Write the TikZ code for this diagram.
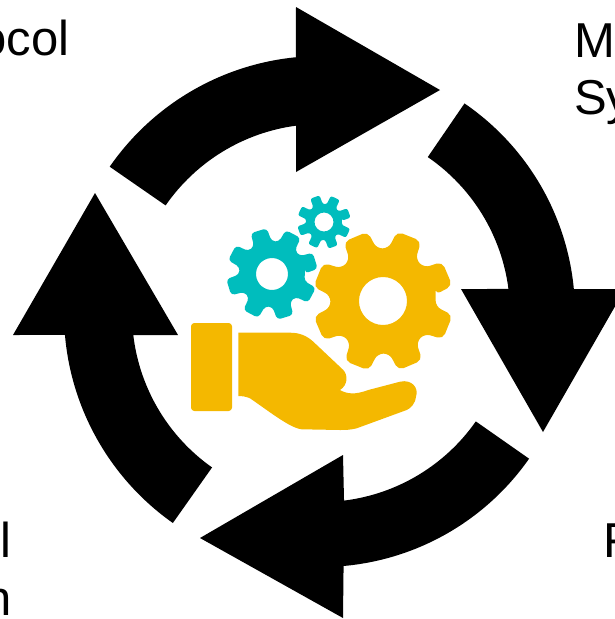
\documentclass[tikz,border=0pt]{standalone}
\usepackage{fontspec}
\setmainfont{Liberation Sans}
\usetikzlibrary{calc}
\definecolor{gearyellow}{HTML}{F4B800}
\definecolor{gearteal}{HTML}{00BDBD}

% #1 colour, #2 x, #3 y, #4 rotation, #5 tip radius, #6 root radius, #7 hole radius
\newcommand{\gear}[7]{
  \begin{scope}[shift={(#2,#3)},rotate=#4]
    \fill[#1,even odd rule,rounded corners=0.06*#5 pt]
      (-16:#6)
      \foreach \a in {0,45,...,315} {
        -- (\a-16:#6) -- (\a-10.5:#5) -- (\a+10.5:#5) -- (\a+16:#6)
      } -- cycle
      (0,0) circle[radius=#7];
  \end{scope}
}

\begin{document}
\begin{tikzpicture}[x=0.75pt,y=0.75pt]
\tikzset{
	cycle arrow/.style={fill=black},
	side label/.style={inner sep=0,font=\fontsize{36.75}{43}\selectfont,text=black},
	hand part/.style={fill=gearyellow}
}
\useasboundingbox (0,-619) rectangle (615,0);

      % four arrows round the centre
      \coordinate (C) at (321,-313);
      \fill[cycle arrow] (C) ++(145.3:257) arc[start angle=145.3,end angle=95.6,radius=257]
          -- (296,-7) -- (440,-90) -- (296,-172)
          -- ($(C)+(97.6:189)$) arc[start angle=97.6,end angle=145.3,radius=189] -- cycle;
      \fill[cycle arrow] (C) ++(55.6:254) arc[start angle=55.6,end angle=5.4,radius=254]
          -- (625,-289) -- (543,-432) -- (461,-289)
          -- ($(C)+(7.3:189)$) arc[start angle=7.3,end angle=55.6,radius=189] -- cycle;
      \fill[cycle arrow] (C) ++(-35:254) arc[start angle=-35,end angle=-84.9,radius=254]
          -- (343,-618) -- (200,-538) -- (343,-455)
          -- ($(C)+(-83:189)$) arc[start angle=-83,end angle=-35,radius=189] -- cycle;
      \fill[cycle arrow] (C) ++(234.8:257) arc[start angle=234.8,end angle=184.9,radius=257]
          -- (13,-335) -- (95,-193) -- (178,-335)
          -- ($(C)+(186.7:189)$) arc[start angle=186.7,end angle=234.8,radius=189] -- cycle;

      % gears
      \gear{gearyellow}{383}{-301}{23}{71}{53}{24}
      \gear{gearteal}{272}{-274}{17}{46}{33}{16}
      \gear{gearteal}{324}{-222}{20}{27}{18}{9.5}

      % hand
      \fill[hand part,rounded corners=2.5pt] (191,-323) rectangle (232,-411);
      \fill[hand part] (238.3,-332.7) -- (290,-332.7)
          .. controls (300,-332.7) and (307,-336) .. (313.3,-341.7)
          -- (343.3,-370)
          .. controls (348,-375) and (348,-385) .. (340,-390)
          .. controls (347,-394) and (355,-395) .. (368.3,-390)
          -- (400,-381.7)
          .. controls (412,-379) and (419,-388) .. (416,-396.7)
          .. controls (415,-404) and (411,-408) .. (406.7,-410)
          -- (356.7,-428.3)
          .. controls (350,-430) and (345,-430) .. (340,-430)
          -- (301.7,-429.3)
          .. controls (290,-428) and (270,-412) .. (250,-398.3)
          .. controls (246,-396.5) and (242,-396) .. (238.3,-396) -- cycle;

      % labels, cut off by the page edge
      \node[side label,anchor=base east] (tl) at (69.5,-55) {ocol};
      \node[side label,anchor=base west] (tr1) at (574,-57) {M};
      \node[side label,anchor=base west] (tr2) at (574,-114) {Sy};
      \node[side label,anchor=base east] (bl1) at (12,-557) {l};
      \node[side label,anchor=base east] (bl2) at (12.5,-615) {n};
      \node[side label,anchor=base west] (br) at (603,-557) {F};
\end{tikzpicture}
\end{document}
